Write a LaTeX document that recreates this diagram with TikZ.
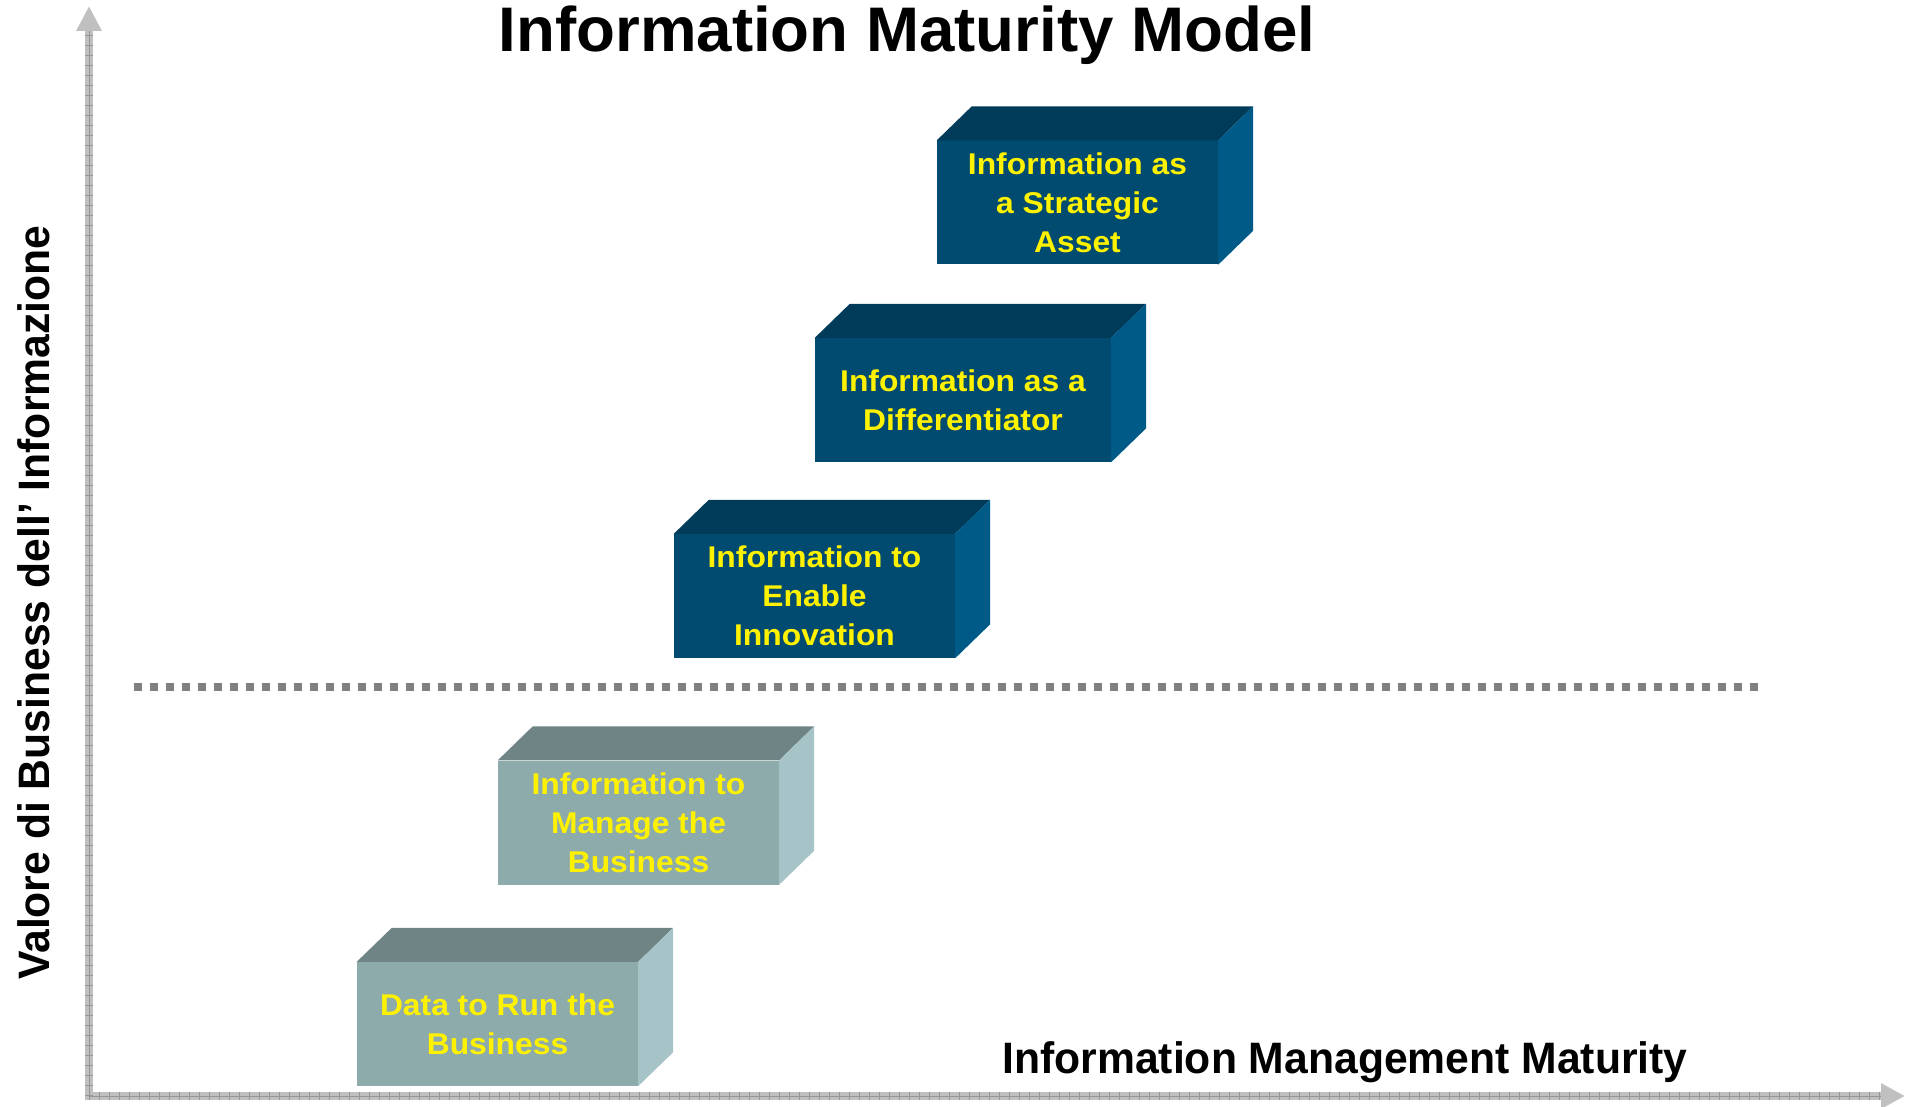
\documentclass[tikz,border=0pt]{standalone}
\usepackage{fontspec}
\setmainfont{Liberation Sans}
\newfontfamily\boxfont{Liberation Sans}[FakeStretch=1.06]
\newfontfamily\titlefont{Liberation Sans}[FakeStretch=1.01]
\newfontfamily\labelfont{Liberation Sans}[FakeStretch=0.97]
\usetikzlibrary{arrows.meta}

\definecolor{blueFront}{RGB}{0,75,111}
\definecolor{blueTop}{RGB}{0,60,90}
\definecolor{blueSide}{RGB}{0,90,135}
\definecolor{grayFront}{RGB}{142,171,171}
\definecolor{grayTop}{RGB}{111,132,133}
\definecolor{graySide}{RGB}{166,196,199}
\definecolor{axisGray}{RGB}{192,192,192}
\definecolor{tickGray}{RGB}{150,150,150}
\definecolor{sepGray}{RGB}{128,128,128}

% top and side faces of a box: node, top colour, side colour
\newcommand{\boxfaces}[3]{%
  \fill[#2] (#1.north west) -- ++(35,-34) -- ([shift={(35,-34)}]#1.north east) -- (#1.north east) -- cycle;
  \fill[#3] (#1.north east) -- ++(35,-34) -- ([shift={(35,-34)}]#1.south east) -- (#1.south east) -- cycle;
}

\begin{document}
\begin{tikzpicture}
    [x=1pt,y=-1pt,
     front/.style={rectangle,inner sep=0pt,minimum width=281pt,minimum height=124pt,align=center,text=yellow,font=\boxfont\bfseries\fontsize{30}{39}\selectfont},
     bluebox/.style={front,fill=blueFront},
     graybox/.style={front,fill=grayFront},
     axis/.style={line width=8pt,draw=axisGray,line cap=rect},
     axistick/.style={line width=8pt,draw=tickGray,dash pattern=on 1pt off 9pt},
     label/.style={inner sep=0pt,font=\labelfont\bfseries\fontsize{44}{50}\selectfont}]
    \useasboundingbox (0,0) rectangle (1908,1107);

    % axes
    \coordinate (origin) at (89,1096);
    \coordinate (ytip) at (89,6);
    \coordinate (ybase) at (89,31);
    \coordinate (xtip) at (1905,1096);
    \coordinate (xbase) at (1881,1096);
    \draw[axis,-{Triangle[length=25pt,width=24pt]}] (origin) -- (ytip);
    \draw[axis,-{Triangle[length=24pt,width=24pt]}] (origin) -- (xtip);
    \draw[axistick] (origin) -- (ybase);
    \draw[axistick] (origin) -- (xbase);
    \draw[tickGray,line width=0.8pt] (origin) -- (ybase);
    \draw[tickGray,line width=0.8pt] (origin) -- (xbase);

    % dotted separator
    \coordinate (sepL) at (134,687);
    \coordinate (sepR) at (1759,687);
    \draw[line width=8pt,draw=sepGray,dash pattern=on 8pt off 8pt] (sepL) -- (sepR);

    % titles
    \node[inner sep=0pt,anchor=base,font=\titlefont\bfseries\fontsize{63}{70}\selectfont] (title) at (907,52) {Information Maturity Model};
    \node[label,rotate=90,anchor=base west] (ylabel) at (49,980) {Valore di Business dell’ Informazione};
    \node[label,anchor=base] (xlabel) at (1345,1073) {Information Management Maturity};

    % boxes
    \node[bluebox] (asset) at (1077.5,202.5) {Information as\\a Strategic\\Asset};
    \node[bluebox,minimum width=296pt] (differ) at (963,400) {Information as a\\Differentiator};
    \node[bluebox] (innov) at (814.5,596) {Information to\\Enable\\Innovation};
    \node[graybox] (manage) at (638.5,822.5) {Information to\\Manage the\\Business};
    \node[graybox] (run) at (497.5,1024) {Data to Run the\\Business};
    \boxfaces{asset}{blueTop}{blueSide}
    \boxfaces{differ}{blueTop}{blueSide}
    \boxfaces{innov}{blueTop}{blueSide}
    \boxfaces{manage}{grayTop}{graySide}
    \boxfaces{run}{grayTop}{graySide}
\end{tikzpicture}
\end{document}
